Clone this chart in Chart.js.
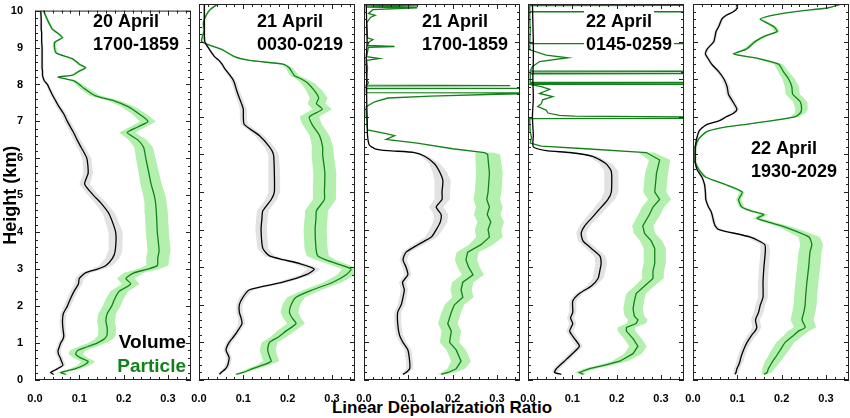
<!DOCTYPE html>
<html>
<head>
<meta charset="utf-8">
<script src="https://cdn.jsdelivr.net/npm/chart.js@4.4.0/dist/chart.umd.min.js"></script>
<style>
html, body { margin: 0; padding: 0; background: #fff; overflow: hidden; }
#wrap { position: relative; width: 850px; height: 418px; }
#wrap canvas { position: absolute; top: 0; }
#xtitle {
    position: absolute; left: 242px; width: 400px; top: 398px;
    line-height: 20px; text-align: center; white-space: nowrap;
    font: bold 17px 'Liberation Sans', Arial, sans-serif; color: #000;
}
</style>
</head>
<body>
<div id="wrap"><div id="xtitle">Linear Depolarization Ratio</div></div>
<script>
// heights (km) and depolarization ratios

// 20 April 1700-1859
var h1 = [0.15,0.2,0.25,0.3,0.4,0.5,0.6,0.7,0.8,0.9,1.0,1.1,1.2,1.4,1.6,1.8,2.0,2.2,2.4,2.6,2.75,2.9,3.0,3.1,3.3,3.5,4.0,4.5,4.8,5.0,5.3,5.6,6.0,6.3,6.5,6.7,6.85,7.0,7.2,7.4,7.55,7.7,7.9,8.0,8.1,8.2,8.25,8.35,8.45,8.55,8.7,8.85,9.0,9.15,9.27,9.4,9.5,9.75,10.0];
var vol1 = [0.042,0.035,0.042,0.05,0.063,0.06,0.057,0.053,0.052,0.055,0.058,0.063,0.065,0.063,0.062,0.064,0.073,0.08,0.088,0.098,0.1,0.114,0.141,0.16,0.175,0.181,0.182,0.167,0.148,0.132,0.112,0.12,0.117,0.104,0.095,0.087,0.08,0.073,0.065,0.054,0.047,0.04,0.032,0.028,0.021,0.018,0.017,0.017,0.016,0.016,0.016,0.016,0.016,0.015,0.015,0.015,0.014,0.014,0.013];
var volErr1 = [0.005,0.005,0.005,0.006,0.006,0.006,0.006,0.006,0.006,0.006,0.006,0.006,0.006,0.006,0.007,0.007,0.008,0.008,0.008,0.009,0.01,0.012,0.014,0.015,0.016,0.016,0.016,0.014,0.013,0.012,0.012,0.011,0.01,0.009,0.008,0.008,0.007,0.007,0.006,0.006,0.005,0.005,0.004,0.004,0.003,0.003,0.003,0.003,0.003,0.003,0.003,0.003,0.003,0.003,0.003,0.003,0.003,0.003,0.003];
var par1 = [0.07,0.058,0.073,0.09,0.11,0.12,0.103,0.092,0.096,0.118,0.14,0.155,0.162,0.163,0.16,0.163,0.173,0.18,0.19,0.216,0.205,0.223,0.254,0.276,0.277,0.28,0.276,0.274,0.272,0.269,0.262,0.257,0.25,0.245,0.232,0.208,0.232,0.255,0.235,0.21,0.18,0.135,0.11,0.1,0.088,0.052,0.085,0.098,0.114,0.1,0.084,0.048,0.044,0.045,0.062,0.05,0.039,0.028,0.019];
var parErr1 = [0.006,0.008,0.01,0.012,0.014,0.016,0.016,0.016,0.018,0.02,0.02,0.02,0.02,0.02,0.02,0.02,0.02,0.02,0.02,0.02,0.02,0.022,0.024,0.025,0.026,0.026,0.026,0.026,0.025,0.025,0.024,0.023,0.022,0.021,0.02,0.018,0.018,0.018,0.016,0.015,0.014,0.012,0.01,0.008,0.006,0.005,0.005,0.005,0.005,0.005,0.004,0.004,0.004,0.004,0.004,0.003,0.003,0.003,0.002];

// 21 April 0030-0219
var h2 = [0.15,0.2,0.3,0.4,0.5,0.6,0.8,1.0,1.15,1.3,1.5,1.65,1.8,2.0,2.2,2.4,2.6,2.8,2.95,3.1,3.2,3.3,3.5,4.0,4.3,4.5,4.8,5.0,5.5,6.0,6.2,6.5,6.8,7.0,7.2,7.35,7.5,7.7,7.9,8.0,8.1,8.3,8.4,8.5,8.6,8.8,9.0,9.3,9.5,9.7,9.85,10.0];
var vol2 = [0.046,0.05,0.06,0.065,0.067,0.068,0.061,0.068,0.078,0.087,0.097,0.095,0.091,0.091,0.099,0.114,0.189,0.242,0.26,0.226,0.19,0.159,0.144,0.14,0.142,0.144,0.163,0.17,0.17,0.168,0.159,0.136,0.102,0.1,0.1,0.096,0.091,0.085,0.08,0.076,0.07,0.057,0.052,0.045,0.035,0.023,0.013,0.012,0.012,0.012,0.012,0.012];
var volErr2 = [0.005,0.005,0.006,0.006,0.006,0.006,0.006,0.007,0.007,0.007,0.007,0.007,0.007,0.007,0.008,0.009,0.012,0.014,0.015,0.013,0.012,0.012,0.012,0.013,0.013,0.013,0.013,0.013,0.013,0.012,0.011,0.01,0.008,0.008,0.008,0.007,0.007,0.006,0.006,0.005,0.005,0.004,0.004,0.004,0.003,0.003,0.003,0.003,0.003,0.003,0.003,0.003];
var par2 = [0.084,0.1,0.121,0.145,0.163,0.16,0.155,0.159,0.18,0.196,0.219,0.21,0.204,0.208,0.219,0.257,0.302,0.332,0.343,0.309,0.285,0.268,0.264,0.262,0.264,0.265,0.283,0.283,0.284,0.279,0.279,0.272,0.255,0.249,0.278,0.265,0.27,0.26,0.245,0.232,0.215,0.204,0.19,0.114,0.08,0.05,0.006,0.012,0.01,0.016,0.025,0.042];
var parErr2 = [0.006,0.008,0.012,0.015,0.018,0.018,0.018,0.018,0.018,0.02,0.02,0.02,0.02,0.02,0.02,0.02,0.02,0.02,0.02,0.02,0.022,0.025,0.026,0.026,0.026,0.026,0.026,0.026,0.026,0.025,0.024,0.022,0.022,0.022,0.022,0.02,0.02,0.018,0.015,0.012,0.01,0.008,0.006,0.005,0.004,0.004,0.003,0.003,0.003,0.003,0.003,0.003];

// 21 April 1700-1859
var h3v = [0.15,0.2,0.3,0.5,0.8,1.0,1.2,1.5,1.8,2.0,2.2,2.4,2.6,2.8,3.0,3.2,3.4,3.6,3.8,4.0,4.2,4.4,4.6,4.8,5.0,5.3,5.55,5.75,5.95,6.05,6.1,6.15,6.25,6.5,7.0,7.5,8.0,8.5,9.0,9.5,10.0];
var vol3 = [0.088,0.095,0.103,0.103,0.099,0.088,0.08,0.076,0.076,0.084,0.088,0.091,0.087,0.099,0.095,0.088,0.095,0.122,0.152,0.163,0.172,0.174,0.163,0.176,0.176,0.178,0.17,0.159,0.137,0.114,0.054,0.025,0.012,0.008,0.007,0.006,0.006,0.005,0.007,0.006,0.005];
var volErr3 = [0.005,0.006,0.008,0.008,0.008,0.008,0.008,0.008,0.008,0.008,0.008,0.008,0.008,0.008,0.008,0.008,0.009,0.012,0.014,0.015,0.016,0.016,0.016,0.018,0.018,0.018,0.016,0.012,0.008,0.004];
var h3p = [0.15,0.2,0.3,0.5,0.8,1.0,1.3,1.5,1.8,2.0,2.2,2.4,2.6,2.8,3.0,3.2,3.4,3.6,3.8,4.0,4.2,4.4,4.6,4.8,5.0,5.5,6.0,6.05,6.15,6.3,6.4,6.5,6.55,6.65,7.0,7.27,7.4,7.5,7.55,7.6,7.63,7.645,7.75,7.755,7.765,7.82,7.83,7.84,7.9,8.0,8.3,8.5,8.55,8.6,8.85,8.87,8.9,9.0,9.05,9.1,9.5,9.65,9.7,9.75,9.85,9.9,9.92,9.95,9.97,10.0];
var par3 = [0.174,0.19,0.208,0.219,0.208,0.193,0.197,0.189,0.197,0.204,0.223,0.219,0.223,0.246,0.236,0.23,0.234,0.264,0.283,0.28,0.286,0.278,0.283,0.277,0.28,0.283,0.279,0.272,0.2,0.12,0.05,0.069,0.05,0.008,0.006,0.005,0.024,0.054,0.15,0.3,0.5,0.005,0.005,0.5,0.005,0.005,0.33,0.005,0.01,0.006,0.008,0.006,0.035,0.006,0.01,0.069,0.008,0.012,0.02,0.008,0.006,0.015,0.025,0.01,0.02,0.12,0.005,0.12,0.01,0.02];
var parErr3 = [0.01,0.015,0.02,0.022,0.022,0.022,0.022,0.022,0.022,0.022,0.024,0.024,0.024,0.025,0.025,0.025,0.025,0.027,0.03,0.03,0.03,0.03,0.03,0.03,0.03,0.03,0.028,0.02];

// 22 April 0145-0259
var h4v = [0.15,0.2,0.3,0.5,0.7,0.9,1.1,1.3,1.5,1.65,1.8,2.1,2.3,2.5,2.7,2.9,3.1,3.3,3.5,3.7,3.9,4.1,4.3,4.5,4.8,5.0,5.55,5.75,5.95,6.05,6.1,6.2,6.5,7.0,7.5,8.0,8.5,9.0,9.5,10.0];
var vol4 = [0.075,0.06,0.064,0.082,0.1,0.116,0.105,0.094,0.101,0.096,0.101,0.101,0.116,0.143,0.158,0.162,0.165,0.162,0.143,0.124,0.12,0.128,0.143,0.158,0.18,0.188,0.188,0.176,0.146,0.094,0.041,0.012,0.012,0.01,0.012,0.011,0.012,0.012,0.011,0.01];
var volErr4 = [0.005,0.006,0.007,0.008,0.008,0.008,0.008,0.008,0.008,0.008,0.008,0.008,0.008,0.01,0.012,0.013,0.013,0.013,0.012,0.011,0.011,0.012,0.013,0.014,0.016,0.016,0.016,0.014,0.01,0.005];
var h4p = [0.15,0.2,0.3,0.4,0.5,0.7,0.9,1.1,1.3,1.4,1.5,1.6,1.7,1.9,2.1,2.3,2.5,2.7,2.9,3.1,3.3,3.5,3.7,3.9,4.1,4.4,4.6,4.8,5.0,5.5,5.85,6.05,6.15,6.22,6.3,6.45,6.6,6.9,6.95,6.965,6.98,7.02,7.04,7.1,7.18,7.27,7.35,7.45,7.54,7.62,7.73,7.8,7.86,7.865,7.875,7.905,7.91,7.92,8.14,8.15,8.16,8.2,8.21,8.22,8.33,8.47,8.57,8.64,8.78,8.94,8.945,8.955,9.3,9.6,9.79,9.795,9.805,9.96,9.965,9.975,10.0];
var par4 = [0.125,0.116,0.139,0.176,0.207,0.237,0.248,0.237,0.222,0.222,0.244,0.248,0.24,0.237,0.24,0.244,0.263,0.282,0.282,0.286,0.286,0.286,0.278,0.263,0.259,0.274,0.282,0.297,0.286,0.29,0.297,0.267,0.13,0.03,0.005,0.008,0.005,0.004,0.004,0.5,0.5,0.105,0.071,0.045,0.041,0.022,0.03,0.033,0.056,0.026,0.049,0.03,0.005,0.5,0.005,0.005,0.5,0.005,0.005,0.5,0.005,0.005,0.5,0.005,0.01,0.026,0.09,0.041,0.004,0.004,0.5,0.004,0.005,0.004,0.004,0.5,0.004,0.004,0.5,0.004,0.004];
var parErr4 = [0.008,0.01,0.014,0.016,0.018,0.02,0.02,0.02,0.02,0.02,0.022,0.022,0.022,0.022,0.022,0.022,0.022,0.024,0.025,0.025,0.025,0.025,0.025,0.024,0.024,0.025,0.025,0.026,0.026,0.026,0.024,0.018];

// 22 April 1930-2029
var h5 = [0.15,0.2,0.3,0.4,0.5,0.6,0.8,1.0,1.2,1.3,1.4,1.6,1.8,2.0,2.2,2.6,3.0,3.4,3.6,3.8,4.0,4.1,4.2,4.3,4.4,4.5,4.6,4.8,5.0,5.2,5.4,5.6,5.8,6.0,6.2,6.4,6.6,6.7,6.8,6.9,7.0,7.1,7.2,7.4,7.6,7.8,8.0,8.2,8.4,8.55,8.67,8.8,9.0,9.15,9.27,9.4,9.6,9.7,9.8,9.9,10.0];
var vol5 = [0.095,0.097,0.099,0.103,0.106,0.108,0.114,0.122,0.133,0.14,0.144,0.141,0.148,0.152,0.158,0.158,0.16,0.163,0.162,0.13,0.058,0.05,0.047,0.045,0.043,0.04,0.035,0.029,0.028,0.026,0.02,0.009,0.005,0.005,0.005,0.008,0.013,0.02,0.032,0.06,0.075,0.092,0.099,0.09,0.08,0.077,0.07,0.058,0.042,0.034,0.028,0.032,0.047,0.05,0.052,0.058,0.065,0.075,0.092,0.1,0.098];
var volErr5 = [0.006,0.006,0.007,0.007,0.008,0.008,0.008,0.009,0.01,0.01,0.01,0.01,0.011,0.011,0.011,0.011,0.011,0.011,0.01,0.009,0.006,0.004,0.004,0.004,0.004,0.003,0.003,0.003,0.003,0.003,0.003,0.003,0.003,0.003,0.003,0.003,0.003,0.003,0.004,0.005,0.006,0.006,0.006,0.006,0.006,0.006,0.005,0.005,0.004,0.004,0.004,0.004,0.004,0.004,0.004,0.004,0.004,0.004,0.004,0.004,0.004];
var par5 = [0.16,0.167,0.17,0.175,0.18,0.186,0.197,0.208,0.228,0.238,0.253,0.246,0.25,0.253,0.254,0.257,0.261,0.264,0.268,0.262,0.223,0.2,0.17,0.145,0.16,0.13,0.11,0.103,0.111,0.073,0.028,0.013,0.005,0.005,0.006,0.012,0.03,0.06,0.12,0.18,0.23,0.242,0.245,0.242,0.225,0.223,0.216,0.204,0.193,0.148,0.092,0.12,0.14,0.163,0.19,0.182,0.152,0.178,0.231,0.306,0.336];
var parErr5 = [0.006,0.01,0.014,0.016,0.018,0.018,0.02,0.02,0.022,0.024,0.025,0.026,0.026,0.026,0.026,0.026,0.026,0.026,0.026,0.024,0.018,0.014,0.012,0.01,0.01,0.008,0.006,0.006,0.006,0.005,0.004,0.003,0.003,0.003,0.003,0.003,0.003,0.004,0.006,0.008,0.01,0.012,0.014,0.016,0.016,0.016,0.014,0.012,0.01,0.008,0.006,0.006,0.006,0.006,0.006,0.006,0.005,0.005,0.005,0.004,0.003];

var xTicks = [0, 0.1, 0.2, 0.3];
var yTicks = [0,1,2,3,4,5,6,7,8,9,10];

var panelDate = ["20 April", "21 April", "21 April", "22 April", "22 April"];
var panelTime = ["1700-1859", "0030-0219", "1700-1859", "0145-0259", "1930-2029"];

var panels = [
    {hV: h1, vol: vol1, volErr: volErr1, hP: h1, par: par1, parErr: parErr1, spiky: false},
    {hV: h2, vol: vol2, volErr: volErr2, hP: h2, par: par2, parErr: parErr2, spiky: false},
    {hV: h3v, vol: vol3, volErr: volErr3, hP: h3p, par: par3, parErr: parErr3, spiky: true},
    {hV: h4v, vol: vol4, volErr: volErr4, hP: h4p, par: par4, parErr: parErr4, spiky: true},
    {hV: h5, vol: vol5, volErr: volErr5, hP: h5, par: par5, parErr: parErr5, spiky: false}
];

var plotLeft = [35, 199, 364, 528, 693];
var labelBase = [27, 27, 27, 27, 154];

var FONT = "'Liberation Sans', Arial, sans-serif";
var GREEN = "#13801a";

function profile(h, v) {
    return h.map((y, i) => ({x: v[i], y: y}));
}

// closed outline: left edge going up, right edge coming back down
function band(h, v, err) {
    var pts = [];
    for (var i = 0; i < err.length; i++) pts.push({x: v[i] - err[i], y: h[i]});
    for (var j = err.length - 1; j >= 0; j--) pts.push({x: v[j] + err[j], y: h[j]});
    return pts;
}

var frame = {
    id: "frame",
    afterDraw(chart) {
        var ctx = chart.ctx, a = chart.chartArea;
        var sx = chart.scales.x, sy = chart.scales.y;
        ctx.save();
        ctx.strokeStyle = "#222";
        ctx.lineWidth = 1;
        ctx.strokeRect(a.left + 0.5, a.top + 0.5, a.right - a.left - 1, a.bottom - a.top - 1);
        ctx.beginPath();
        for (var k = 0; k <= 50; k++) {
            var py = Math.round(sy.getPixelForValue(k * 0.2)) + 0.5;
            var len = k % 5 === 0 ? 5 : 3;
            ctx.moveTo(a.left, py); ctx.lineTo(a.left + len, py);
            ctx.moveTo(a.right, py); ctx.lineTo(a.right - len, py);
        }
        for (var m = 0; m <= 17; m++) {
            var px = Math.round(sx.getPixelForValue(m * 0.02)) + 0.5;
            var l2 = m % 5 === 0 ? 5 : 3;
            ctx.moveTo(px, a.bottom); ctx.lineTo(px, a.bottom - l2);
            ctx.moveTo(px, a.top); ctx.lineTo(px, a.top + l2);
        }
        ctx.stroke();
        ctx.restore();
    }
};

var labels = {
    id: "labels",
    afterDatasetsDraw(chart) {
        var p = chart.config.options.panelIndex;
        var ctx = chart.ctx, a = chart.chartArea;
        var x = a.left + 58, b = labelBase[p];
        ctx.save();
        ctx.font = "bold 18px " + FONT;
        ctx.textBaseline = "alphabetic";
        [panelDate[p], panelTime[p]].forEach(function (t, i) {
            var y = b + i * 23;
            var w = ctx.measureText(t).width;
            ctx.fillStyle = "#fff";
            ctx.fillRect(x - 2, y - 17, w + 4, 21);
            ctx.fillStyle = "#000";
            ctx.fillText(t, x, y);
        });
        if (p === 0) {
            ctx.font = "bold 19px " + FONT;
            ctx.textAlign = "right";
            ctx.fillStyle = "#000";
            ctx.fillText("Volume", a.left + 151, 348);
            ctx.fillStyle = GREEN;
            ctx.fillText("Particle", a.left + 151, 372);
        }
        ctx.restore();
    }
};

var wrap = document.getElementById("wrap");

panels.forEach(function (pn, p) {
    var box = document.createElement("canvas");
    box.width = 197;
    box.height = 418;
    box.style.left = (plotLeft[p] - 35) + "px";
    wrap.appendChild(box);

    new Chart(box, {
        type: "scatter",
        data: {
            datasets: [
                {
                    data: profile(pn.hV, pn.vol),
                    showLine: true, borderColor: "#000", borderWidth: 1.3,
                    pointRadius: 0, tension: 0.2
                },
                {
                    data: profile(pn.hP, pn.par),
                    showLine: true, borderColor: GREEN, borderWidth: 1.3,
                    pointRadius: 0, tension: pn.spiky ? 0 : 0.2
                },
                {
                    data: band(pn.hV, pn.vol, pn.volErr),
                    showLine: true, borderColor: "rgba(0,0,0,0)", borderWidth: 0,
                    pointRadius: 0, fill: "shape", backgroundColor: "#e2e2e2"
                },
                {
                    data: band(pn.hP, pn.par, pn.parErr),
                    showLine: true, borderColor: "rgba(0,0,0,0)", borderWidth: 0,
                    pointRadius: 0, fill: "shape", backgroundColor: "#b3f0ae"
                }
            ]
        },
        options: {
            panelIndex: p,
            animation: false,
            responsive: false,
            devicePixelRatio: 1,
            events: [],
            layout: {padding: {top: 4, left: 0, right: 6, bottom: 0}},
            plugins: {legend: {display: false}, tooltip: {enabled: false}},
            scales: {
                x: {
                    type: "linear", min: 0, max: 0.352,
                    grid: {display: false}, border: {display: false},
                    afterBuildTicks: function (s) { s.ticks = xTicks.map(v => ({value: v})); },
                    afterFit: function (s) { s.height = 38; },
                    ticks: {
                        autoSkip: false, maxRotation: 0, padding: 4, color: "#000",
                        font: {family: FONT, weight: "bold", size: 11},
                        callback: v => Number(v).toFixed(1)
                    }
                },
                y: {
                    type: "linear", min: 0, max: 10,
                    grid: {display: false}, border: {display: false},
                    afterBuildTicks: function (s) { s.ticks = yTicks.map(v => ({value: v})); },
                    afterFit: function (s) { s.width = 35; },
                    ticks: {
                        display: p === 0, padding: 4, color: "#000",
                        font: {family: FONT, weight: "bold", size: 11},
                        callback: v => String(v)
                    },
                    title: {
                        display: p === 0, text: "Height (km)", color: "#000",
                        font: {family: FONT, weight: "bold", size: 18},
                        padding: {top: 0, bottom: 0}
                    }
                }
            }
        },
        plugins: [labels, frame]
    });
});
</script>
</body>
</html>
